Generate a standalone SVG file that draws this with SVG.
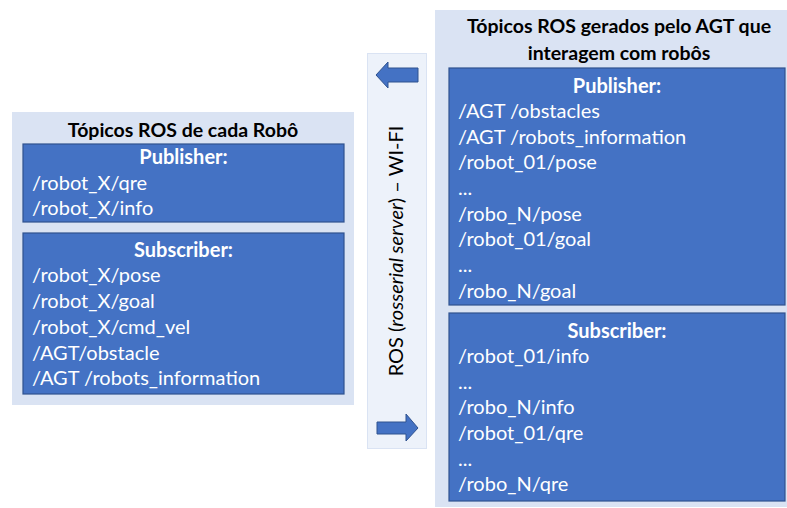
<svg xmlns="http://www.w3.org/2000/svg" width="787" height="508" viewBox="0 0 787 508">
  <style>
    .panel { fill: #dae3f3; }
    .link { fill: #edf2fa; stroke: #dae3f3; stroke-width: 1; }
    .box { fill: #4472c4; stroke: #2f528f; stroke-width: 1.2; }
    .arrow { fill: #4472c4; stroke: #2f528f; stroke-width: 1; }
    text { font-family: Lato, "Liberation Sans", sans-serif; }
    .title { font-size: 19.5px; font-weight: bold; fill: #000; text-anchor: middle; }
    .head { font-size: 20px; font-weight: bold; fill: #fff; text-anchor: middle; }
    .item { font-size: 20px; fill: #fff; }
    .vlabel { font-size: 20px; fill: #000; text-anchor: middle; }
  </style>

  <rect width="787" height="508" fill="#ffffff"/>

  <!-- Robot-side topics -->
  <g id="robot-topics">
    <rect class="panel" x="12" y="112" width="342" height="293"/>
    <text class="title" x="183" y="137">Tópicos ROS de cada Robô</text>
    <g id="robot-publisher">
      <rect class="box" x="23" y="144" width="321" height="78"/>
      <text class="head" x="183.5" y="164">Publisher:</text>
      <text class="item" x="32" y="190">/robot_X/qre</text>
      <text class="item" x="32" y="215">/robot_X/info</text>
    </g>
    <g id="robot-subscriber">
      <rect class="box" x="23" y="233" width="321" height="161"/>
      <text class="head" x="183.5" y="257">Subscriber:</text>
      <text class="item" x="32" y="282">/robot_X/pose</text>
      <text class="item" x="32" y="308">/robot_X/goal</text>
      <text class="item" x="32" y="334">/robot_X/cmd_vel</text>
      <text class="item" x="32" y="360">/AGT/obstacle</text>
      <text class="item" x="32" y="385">/AGT /robots_information</text>
    </g>
  </g>

  <!-- Communication link -->
  <g id="connectors">
    <rect class="link" x="367.5" y="53.5" width="59" height="395"/>
    <path class="arrow" d="M376,75 L388,62 L388,68 L418,68 L418,82 L388,82 L388,88 Z"/>
    <path class="arrow" d="M418,428 L406,414 L406,422 L377,422 L377,434 L406,434 L406,441 Z"/>
    <text class="vlabel" transform="translate(403,251) rotate(-90)">ROS (<tspan font-style="italic">rosserial server</tspan>) – WI-FI</text>
  </g>

  <!-- AGT-side topics -->
  <g id="agt-topics">
    <rect class="panel" x="435" y="10" width="360" height="497"/>
    <text class="title" x="619" y="33">Tópicos ROS gerados pelo AGT que</text>
    <text class="title" x="619" y="60">interagem com robôs</text>
    <g id="agt-publisher">
      <rect class="box" x="449" y="68" width="336" height="237"/>
      <text class="head" x="617" y="93">Publisher:</text>
      <text class="item" x="458" y="118">/AGT /obstacles</text>
      <text class="item" x="458" y="144">/AGT /robots_information</text>
      <text class="item" x="458" y="169">/robot_01/pose</text>
      <text class="item" x="458" y="195">...</text>
      <text class="item" x="458" y="221">/robo_N/pose</text>
      <text class="item" x="458" y="246">/robot_01/goal</text>
      <text class="item" x="458" y="272">...</text>
      <text class="item" x="458" y="298">/robo_N/goal</text>
    </g>
    <g id="agt-subscriber">
      <rect class="box" x="449" y="313" width="336" height="188"/>
      <text class="head" x="617" y="338">Subscriber:</text>
      <text class="item" x="458" y="363">/robot_01/info</text>
      <text class="item" x="458" y="389">...</text>
      <text class="item" x="458" y="414">/robo_N/info</text>
      <text class="item" x="458" y="440">/robot_01/qre</text>
      <text class="item" x="458" y="466">...</text>
      <text class="item" x="458" y="491">/robo_N/qre</text>
    </g>
  </g>
</svg>
